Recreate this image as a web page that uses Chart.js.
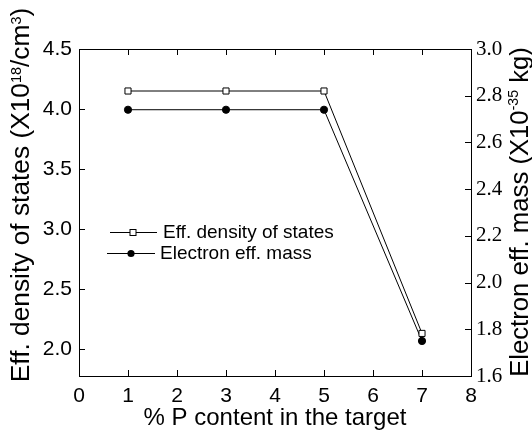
<!DOCTYPE html>
<html>
<head>
<meta charset="utf-8">
<script src="https://cdn.jsdelivr.net/npm/chart.js@4"></script>
<style>
  html, body { margin: 0; padding: 0; background: #fff; }
</style>
</head>
<body>
<canvas id="chart" width="532" height="431"></canvas>
<script>
// values
const pContent = [1, 3, 5, 7];
const densityStates = [4.15, 4.15, 4.15, 2.13];
const electronMass = [2.74, 2.74, 2.74, 1.75];

const xTicks = [0, 1, 2, 3, 4, 5, 6, 7, 8];
const leftTicks = [2.0, 2.5, 3.0, 3.5, 4.0, 4.5];
const rightTicks = [1.6, 1.8, 2.0, 2.2, 2.4, 2.6, 2.8, 3.0];

const seriesNames = ['Eff. density of states', 'Electron eff. mass'];

const SANS = 'Liberation Sans, Arial, sans-serif';
const SERIF = 'Liberation Serif, Times New Roman, serif';

// draws text with superscript parts, centred on (cx, cy)
const drawRich = (ctx, parts, cx, cy, rot, size, supRaise) => {
  ctx.save();
  ctx.translate(cx, cy);
  ctx.rotate(rot);
  ctx.fillStyle = '#000';
  ctx.textBaseline = 'alphabetic';
  ctx.textAlign = 'left';
  let total = 0;
  parts.forEach(p => {
    ctx.font = (p.sup ? size * 0.55 : size) + 'px ' + SANS;
    p.w = ctx.measureText(p.t).width;
    total += p.w;
  });
  let x = -total / 2;
  const base = size * 0.36;
  parts.forEach(p => {
    ctx.font = (p.sup ? size * 0.55 : size) + 'px ' + SANS;
    ctx.fillText(p.t, x, p.sup ? base - size * supRaise : base);
    x += p.w;
  });
  ctx.restore();
};

const line = (ctx, x1, y1, x2, y2) => {
  ctx.beginPath();
  ctx.moveTo(x1, y1);
  ctx.lineTo(x2, y2);
  ctx.stroke();
};

const framePlugin = {
  id: 'frame',
  afterDraw(chart) {
    const ctx = chart.ctx;
    const area = chart.chartArea;
    const L = area.left, R = area.right, T = area.top, B = area.bottom;
    const xs = chart.scales.x, yl = chart.scales.yL, yr = chart.scales.yR;

    ctx.save();
    ctx.strokeStyle = '#000';
    ctx.lineWidth = 1;
    line(ctx, L, T + 0.5, R, T + 0.5);
    // inward ticks on all four sides
    xTicks.forEach(v => {
      const px = Math.round(xs.getPixelForValue(v)) + 0.5;
      line(ctx, px, B, px, B - 6);
      line(ctx, px, T, px, T + 6);
    });
    leftTicks.forEach(v => {
      const py = Math.round(yl.getPixelForValue(v)) + 0.5;
      line(ctx, L, py, L + 6, py);
    });
    rightTicks.forEach(v => {
      const py = Math.round(yr.getPixelForValue(v)) + 0.5;
      line(ctx, R, py, R - 6, py);
    });

    // legend
    ctx.font = '19px ' + SANS;
    ctx.fillStyle = '#000';
    ctx.textBaseline = 'middle';
    line(ctx, 110, 232.5, 157, 232.5);
    line(ctx, 107, 253.5, 155, 253.5);
    ctx.fillStyle = '#fff';
    ctx.fillRect(130, 229.5, 6, 6);
    ctx.strokeRect(130, 229.5, 6, 6);
    ctx.fillStyle = '#000';
    ctx.beginPath();
    ctx.arc(131, 253.5, 3.6, 0, Math.PI * 2);
    ctx.fill();
    ctx.fillText(seriesNames[0], 163, 233);
    ctx.fillText(seriesNames[1], 160, 254);
    ctx.restore();

    // axis titles
    drawRich(ctx, [{ t: '% P content in the target' }], (L + R) / 2, 416, 0, 24, 0);
    drawRich(ctx, [
      { t: 'Eff. density of states (X10' }, { t: '18', sup: true },
      { t: '/cm' }, { t: '3', sup: true }, { t: ')' }
    ], 20, 195, -Math.PI / 2, 26.3, 0.32);
    drawRich(ctx, [
      { t: 'Electron eff. mass (X10' }, { t: '-35', sup: true }, { t: ' kg)' }
    ], 519, 212, -Math.PI / 2, 25.7, 0.4);
  }
};

new Chart(document.getElementById('chart').getContext('2d'), {
  type: 'line',
  data: {
    datasets: [
      {
        label: seriesNames[0],
        data: pContent.map((x, i) => ({ x, y: densityStates[i] })),
        yAxisID: 'yL',
        borderColor: '#000',
        borderWidth: 1,
        pointStyle: 'rect',
        pointRadius: 4.3,
        pointBackgroundColor: '#fff',
        pointBorderColor: '#000',
        pointBorderWidth: 1,
        tension: 0,
      },
      {
        label: seriesNames[1],
        data: pContent.map((x, i) => ({ x, y: electronMass[i] })),
        yAxisID: 'yR',
        borderColor: '#000',
        borderWidth: 1,
        pointStyle: 'circle',
        pointRadius: 3.6,
        pointBackgroundColor: '#000',
        pointBorderColor: '#000',
        tension: 0,
      },
    ],
  },
  options: {
    responsive: false,
    animation: false,
    events: [],
    layout: { padding: { top: 49, left: 0, right: 0, bottom: 0 } },
    plugins: { legend: { display: false }, tooltip: { enabled: false } },
    scales: {
      x: {
        type: 'linear',
        min: 0,
        max: 8,
        afterBuildTicks: s => { s.ticks = xTicks.map(value => ({ value })); },
        afterFit: s => { s.height = 55; },
        grid: { display: false, drawTicks: false },
        border: { display: true, color: '#000', width: 1 },
        ticks: { color: '#000', padding: 8, font: { family: SANS, size: 21 } },
      },
      yL: {
        position: 'left',
        min: 1.775,
        max: 4.5,
        afterBuildTicks: s => { s.ticks = leftTicks.map(value => ({ value })); },
        afterFit: s => { s.width = 79; },
        grid: { display: false, drawTicks: false },
        border: { display: true, color: '#000', width: 1 },
        ticks: {
          color: '#000', padding: 7, font: { family: SANS, size: 21 },
          callback: v => v.toFixed(1),
        },
      },
      yR: {
        position: 'right',
        min: 1.6,
        max: 3.0,
        afterBuildTicks: s => { s.ticks = rightTicks.map(value => ({ value })); },
        afterFit: s => { s.width = 61; },
        grid: { display: false, drawTicks: false },
        border: { display: true, color: '#000', width: 1 },
        ticks: {
          color: '#000', padding: 5, font: { family: SERIF, size: 21 },
          callback: v => v.toFixed(1),
        },
      },
    },
  },
  plugins: [framePlugin],
});
</script>
</body>
</html>
